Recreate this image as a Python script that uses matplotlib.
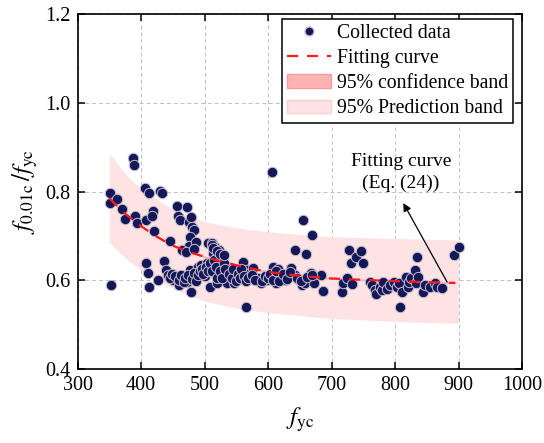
import numpy as np
import matplotlib
matplotlib.use("Agg")
import matplotlib.pyplot as plt
from matplotlib.patches import Patch
from matplotlib.lines import Line2D

plt.rcParams['font.family'] = ['Liberation Serif', 'DejaVu Serif']
plt.rcParams['mathtext.fontset'] = 'stix'

# collected data (f_yc, f_0.01c / f_yc)
fyc = [350.8, 351.9, 353, 362.8, 370.5, 374.8, 388, 389.6, 391, 394, 406.5, 413, 407.6, 418.5, 417,
       420.6, 407.6, 410.8, 412, 427, 430, 433, 445.8, 436, 440, 442, 451, 456.6, 457.7, 462, 459.5,
       473, 476, 478.6, 479.6, 484, 477.6, 476, 465, 470.8, 486.6, 484, 478.6, 473, 477.6, 467, 488,
       489.5, 495, 500.8, 503.5, 506, 511.6, 509.4, 514, 516.8, 519.5, 523, 528.6, 521.5, 526, 519.5,
       521, 536, 539, 541.7, 547, 555, 560.5, 564.9, 563, 566.9, 571, 576.6, 585, 588.6, 592.9, 598.4,
       606.6, 607.6, 610.3, 615.8, 613, 621, 626.5, 636.3, 642.9, 641.8, 648.4, 654.8, 654, 660, 658.8,
       668.7, 667, 672.3, 683.2, 686, 716, 718.7, 724.4, 727, 730.9, 738, 746, 749, 732, 760, 764, 768,
       770.8, 776.3, 779, 781.7, 787, 792.8, 798, 803.6, 806.3, 808, 810.6, 817, 819.8, 822.5, 825.3,
       830.7, 833.6, 835.2, 836, 844.3, 847, 855, 863.4, 866, 874, 892.6, 900.3,
       445, 448, 453, 460, 463, 467, 470, 474, 480, 483, 486, 490, 493, 496, 498, 502, 505, 508, 512,
       515, 518, 520, 524, 527, 530, 533, 538, 543, 545, 550, 553, 556, 558, 562, 565, 569, 575, 580,
       590, 595, 600, 603, 608, 612, 618, 623, 630, 635, 645, 652, 662, 670,
       512, 514, 520, 525, 530]
ratio = [0.796, 0.773, 0.589, 0.782, 0.760, 0.739, 0.875, 0.860, 0.745, 0.730, 0.807, 0.797, 0.736,
         0.757, 0.745, 0.712, 0.638, 0.617, 0.584, 0.600, 0.802, 0.796, 0.688, 0.643, 0.623, 0.612,
         0.601, 0.767, 0.745, 0.736, 0.589, 0.764, 0.732, 0.743, 0.721, 0.713, 0.697, 0.677, 0.668,
         0.664, 0.687, 0.670, 0.574, 0.597, 0.623, 0.608, 0.608, 0.631, 0.634, 0.609, 0.640, 0.683,
         0.685, 0.585, 0.661, 0.675, 0.652, 0.668, 0.657, 0.631, 0.639, 0.593, 0.616, 0.593, 0.612,
         0.623, 0.593, 0.608, 0.642, 0.540, 0.601, 0.623, 0.616, 0.627, 0.604, 0.593, 0.602, 0.601,
         0.845, 0.631, 0.612, 0.625, 0.593, 0.608, 0.601, 0.627, 0.668, 0.612, 0.601, 0.736, 0.589,
         0.660, 0.593, 0.702, 0.616, 0.593, 0.612, 0.576, 0.574, 0.593, 0.604, 0.668, 0.638, 0.653,
         0.666, 0.638, 0.591, 0.597, 0.589, 0.578, 0.570, 0.585, 0.578, 0.597, 0.580, 0.589, 0.597,
         0.585, 0.593, 0.539, 0.573, 0.608, 0.585, 0.597, 0.604, 0.624, 0.593, 0.652, 0.608, 0.574,
         0.589, 0.585, 0.594, 0.585, 0.582, 0.657, 0.676,
         0.605, 0.615, 0.610, 0.600, 0.612, 0.596, 0.605, 0.612, 0.603, 0.616, 0.598, 0.612, 0.620,
         0.625, 0.615, 0.630, 0.622, 0.640, 0.620, 0.645, 0.630, 0.605, 0.620, 0.605, 0.640, 0.625,
         0.615, 0.605, 0.625, 0.598, 0.615, 0.605, 0.625, 0.610, 0.598, 0.605, 0.612, 0.600, 0.598,
         0.610, 0.605, 0.615, 0.600, 0.620, 0.598, 0.615, 0.603, 0.618, 0.605, 0.598, 0.607, 0.612,
         0.680, 0.672, 0.665, 0.660, 0.658]

# fitting curve and bands
fit_x = [350, 375, 400, 425, 450, 475, 500, 525, 550, 575, 600, 625, 650, 675, 700, 750, 800, 850, 895]
fit_y = [0.785, 0.750, 0.722, 0.698, 0.678, 0.664, 0.653, 0.643, 0.634, 0.626, 0.619, 0.614, 0.610,
         0.607, 0.604, 0.601, 0.598, 0.596, 0.594]
band_x = [350, 375, 400, 450, 500, 550, 600, 700, 800, 900]
pred_up = [0.886, 0.840, 0.805, 0.760, 0.732, 0.718, 0.709, 0.698, 0.694, 0.691]
pred_lo = [0.685, 0.650, 0.622, 0.582, 0.553, 0.537, 0.527, 0.514, 0.507, 0.503]

fig = plt.figure(figsize=(5.44, 4.43), dpi=100)
ax = fig.add_axes([0.1425, 0.167, 0.8171, 0.8014])

ax.fill_between(band_x, pred_lo, pred_up, color='#fde3e3', lw=0, zorder=1)
ax.fill_between(fit_x, np.array(fit_y) - 0.002, np.array(fit_y) + 0.002, color='#ffb3b3', lw=0, zorder=1.5)
ax.scatter(fyc, ratio, s=56, c='#13185a', edgecolors='#cbbcc8', linewidths=0.7, zorder=3)
ax.plot(fit_x, fit_y, color='#ff1a1a', ls=(0, (5, 4)), lw=1.6, zorder=4)

ax.set_xlim(300, 1000)
ax.set_ylim(0.4, 1.2)
ax.set_xticks(np.arange(300, 1001, 100))
ax.set_yticks([0.4, 0.6, 0.8, 1.0, 1.2])
ax.yaxis.set_major_formatter(matplotlib.ticker.FormatStrFormatter('%.1f'))
ax.grid(True, ls=(0, (4, 3)), color='#bfbfbf', lw=0.7, zorder=0)
ax.set_axisbelow(True)
ax.tick_params(direction='in', top=True, right=True, labelsize=14.5, length=5, width=1.1, pad=5)
for s in ax.spines.values():
    s.set_linewidth(1.2)

ax.set_xlabel(r'$f_{\mathrm{yc}}$', fontsize=18, labelpad=8)
ax.set_ylabel(r'$f_{\mathrm{0.01c}}\,/f_{\mathrm{yc}}$', fontsize=18, labelpad=4)

ax.text(809, 0.843, 'Fitting curve\n(Eq. (24))', ha='center', va='center', fontsize=14,
        linespacing=1.35, zorder=5)
# arrow from the end of the fitting curve up to the label
ax.annotate('', xy=(813, 0.774), xytext=(882, 0.596),
            arrowprops=dict(arrowstyle='-|>', color='black', lw=0.9, mutation_scale=12,
                            shrinkA=0, shrinkB=0), zorder=5)

handles = [Line2D([], [], ls='none', marker='o', markersize=6.5, markerfacecolor='#13185a',
                  markeredgecolor='#cbbcc8'),
           Line2D([], [], color='#ff1a1a', ls=(0, (5, 4)), lw=1.6),
           Patch(facecolor='#ffb3b3', edgecolor='#ff9999'),
           Patch(facecolor='#fde3e3', edgecolor='#fdd0d0')]
labels = ['Collected data', 'Fitting curve', '95% confidence band', '95% Prediction band']
leg = ax.legend(handles, labels, loc='upper right', fontsize=14.2, fancybox=False, framealpha=1,
                edgecolor='black', borderpad=0.25, labelspacing=0.32, handlelength=2.2,
                handletextpad=0.3, borderaxespad=0.0, bbox_to_anchor=(0.979, 0.987))
leg.get_frame().set_linewidth(1.1)
leg.set_zorder(10)

fig.savefig('out.png', dpi=100)
